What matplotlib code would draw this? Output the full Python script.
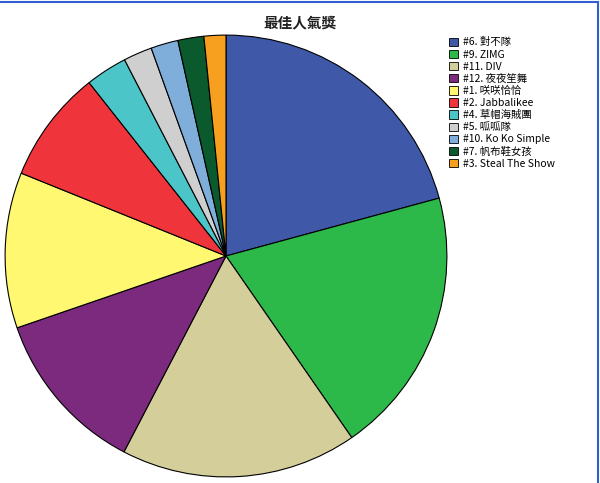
import matplotlib
matplotlib.use('Agg')
import matplotlib.pyplot as plt
from matplotlib.lines import Line2D
from matplotlib.patches import Patch

plt.rcParams['font.family'] = ['Noto Sans CJK TC', 'DejaVu Sans']

labels = ['#6. 對不隊', '#9. ZIMG', '#11. DIV', '#12. 夜夜笙舞', '#1. 咲咲恰恰',
          '#2. Jabbalikee', '#4. 草帽海賊團', '#5. 呱呱隊', '#10. Ko Ko Simple',
          '#7. 帆布鞋女孩', '#3. Steal The Show']
shares = [20.8, 19.6, 17.3, 12.1, 11.4, 8.25, 3.05, 2.1, 2.0, 1.9, 1.6]
colors = ['#3F58A8', '#2DB84A', '#D4CF9A', '#7B2A7E', '#FFF870', '#F0343C',
          '#4CC5C8', '#CFCFCF', '#7FAEDB', '#0B5A2E', '#F7A020']

W, H = 600, 483
fig = plt.figure(figsize=(6, 4.83), dpi=100)

# pie centre (226, 256) px, radius ~222 px
cx, cy, r = 226, 256, 222
ax = fig.add_axes([(cx - r) / W, (H - cy - r) / H, 2 * r / W, 2 * r / H])
ax.pie(shares, colors=colors, startangle=90, counterclock=False,
       wedgeprops=dict(edgecolor='black', linewidth=0.8))
ax.set_xlim(-1.005, 1.005)
ax.set_ylim(-1.005, 1.005)
ax.set_aspect('equal')
ax.axis('off')

fig.text(300 / W, 1 - 22 / H, '最佳人氣獎', ha='center', va='center',
         fontsize=10.5, fontweight='bold', color='#222222')

handles = [Patch(facecolor=c, edgecolor='black', linewidth=0.6) for c in colors]
fig.legend(handles, labels, loc='upper left', bbox_to_anchor=(449 / W, 1 - 37.5 / H),
           frameon=False, fontsize=7.5, handlelength=0.85, handleheight=0.85,
           handletextpad=0.45, labelspacing=0.2, borderaxespad=0, borderpad=0)

# window frame lines
fig.add_artist(Line2D([0, 598 / W], [1 - 2 / H, 1 - 2 / H], color='#2F5FD0', lw=1.5))
fig.add_artist(Line2D([598 / W, 598 / W], [0, 1 - 2 / H], color='#2F5FD0', lw=1.5))

fig.savefig('out.png', dpi=100)
